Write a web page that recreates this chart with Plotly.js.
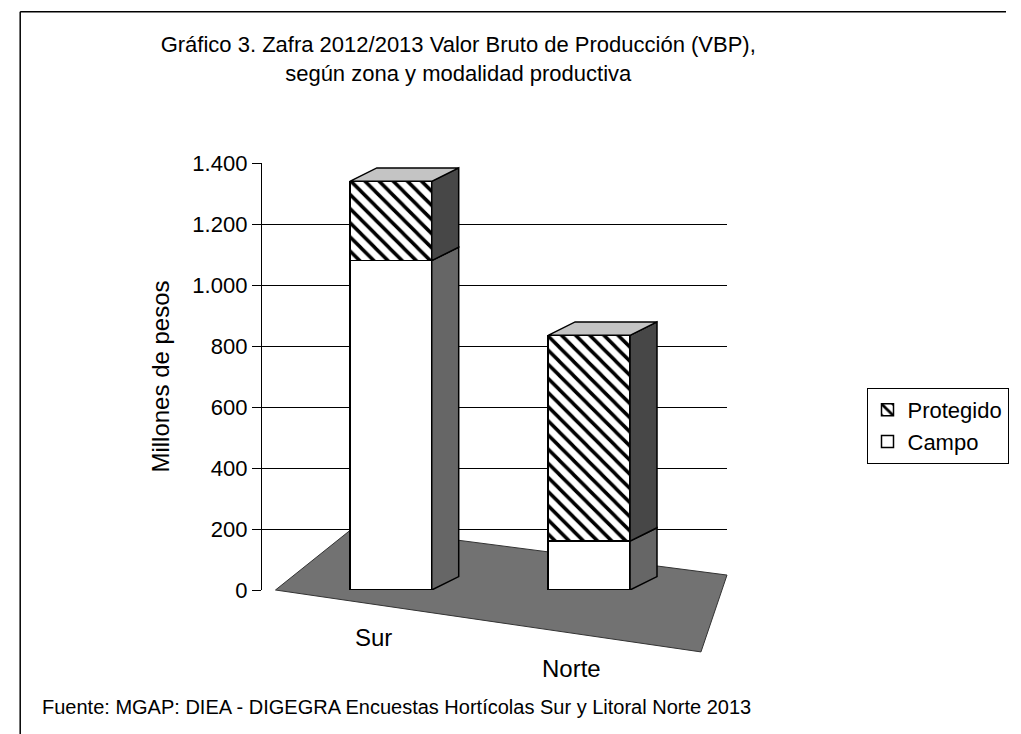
<!DOCTYPE html>
<html>
<head>
<meta charset="utf-8">
<script src="https://cdn.plot.ly/plotly-3.0.1.min.js"></script>
<style>html,body{margin:0;padding:0;background:#fff;}#chart{width:1021px;height:734px;}</style>
</head>
<body>
<div id="chart"></div>
<script>
// ---- data ----
const categories = ['Sur', 'Norte'];
const campo = [1080, 160];
const protegido = [260, 675];
const yTickVals = [0, 200, 400, 600, 800, 1000, 1200, 1400];
const seriesNames = ['Campo', 'Protegido'];
const titleText = 'Gráfico 3. Zafra 2012/2013 Valor Bruto de Producción (VBP),<br>según zona y modalidad productiva';
const yTitle = 'Millones de pesos';
const sourceText = 'Fuente: MGAP: DIEA - DIGEGRA Encuestas Hortícolas Sur y Litoral Norte 2013';

// ---- geometry/style ----
const FONT = 'Liberation Sans, Arial, sans-serif';
const barWidth = 0.413, barOffset = -0.12;
const depthX = 0.136, depthY = 44;
const xIdx = categories.map((c, i) => i);

const traces = [
  {
    type: 'bar', name: seriesNames[0], x: xIdx, y: campo,
    width: barWidth, offset: barOffset,
    marker: {color: '#ffffff', line: {color: '#000', width: 1.5}},
    legendrank: 2, hoverinfo: 'y'
  },
  {
    type: 'bar', name: seriesNames[1], x: xIdx, y: protegido,
    width: barWidth, offset: barOffset,
    marker: {color: '#ffffff', line: {color: '#000', width: 1.5},
      pattern: {shape: '\\', size: 10, solidity: 0.35, fgcolor: '#000', bgcolor: '#fff'}},
    legendrank: 1, hoverinfo: 'y'
  }
];

// pseudo-3D faces computed from the data
const shapes = [];
// floor (decoration, paper coords)
shapes.push({type: 'path', xref: 'paper', yref: 'paper', layer: 'below',
  path: 'M 0.029,0 L 0.199,0.148 L 1.0,0.035 L 0.944,-0.145 Z',
  fillcolor: '#727272', line: {color: '#333', width: 1}});
xIdx.forEach(i => {
  const xl = i + barOffset, xr = xl + barWidth;
  const c = campo[i], t = campo[i] + protegido[i];
  shapes.push({type: 'path', xref: 'x', yref: 'y', layer: 'above',
    path: `M ${xr},0 L ${xr + depthX},${depthY} L ${xr + depthX},${c + depthY} L ${xr},${c} Z`,
    fillcolor: '#666666', line: {color: '#000', width: 1.5}});
  shapes.push({type: 'path', xref: 'x', yref: 'y', layer: 'above',
    path: `M ${xr},${c} L ${xr + depthX},${c + depthY} L ${xr + depthX},${t + depthY} L ${xr},${t} Z`,
    fillcolor: '#474747', line: {color: '#000', width: 1.5}});
  shapes.push({type: 'path', xref: 'x', yref: 'y', layer: 'above',
    path: `M ${xl},${t} L ${xl + depthX},${t + depthY} L ${xr + depthX},${t + depthY} L ${xr},${t} Z`,
    fillcolor: '#c4c4c4', line: {color: '#000', width: 1.5}});
});
// outer frame (top and left edges visible)
shapes.push({type: 'line', xref: 'paper', yref: 'paper', x0: -0.52, x1: 1.6, y0: 1.354, y1: 1.354, line: {color: '#000', width: 1.5}});
shapes.push({type: 'line', xref: 'paper', yref: 'paper', x0: -0.52, x1: -0.52, y0: 1.354, y1: -0.34, line: {color: '#000', width: 1.5}});

const catY = [-0.112, -0.183];
const annotations = categories.map((c, i) => ({
  xref: 'x', yref: 'paper', x: i, y: catY[i], text: c, showarrow: false,
  xanchor: 'center', yanchor: 'middle', font: {family: FONT, size: 24, color: '#000'}
}));
annotations.push({xref: 'paper', yref: 'paper', x: -0.478, y: -0.274, xanchor: 'left', yanchor: 'middle',
  text: sourceText, showarrow: false, font: {family: FONT, size: 20, color: '#000'}});

const layout = {
  width: 1021, height: 734,
  margin: {l: 262, r: 276, t: 163, b: 144},
  paper_bgcolor: '#fff', plot_bgcolor: '#fff',
  separators: ',.',
  font: {family: FONT, color: '#000'},
  title: {text: titleText, x: 0.422, xref: 'paper', xanchor: 'center', y: 0.929, yref: 'container', yanchor: 'top',
    font: {family: FONT, size: 22, color: '#000'}},
  barmode: 'stack',
  showlegend: true,
  legend: {x: 1.3, y: 0.473, xanchor: 'left', yanchor: 'top', traceorder: 'normal',
    bordercolor: '#000', borderwidth: 1, bgcolor: '#fff', font: {family: FONT, size: 22, color: '#000'}},
  xaxis: {type: 'linear', range: [-0.563, 1.782], showticklabels: false, showgrid: false, zeroline: false,
    showline: false, ticks: '', fixedrange: true},
  yaxis: {range: [0, 1400], tickvals: yTickVals, separatethousands: true, tickformat: ',d',
    showgrid: true, gridcolor: '#000', gridwidth: 1, zeroline: false,
    showline: true, linecolor: '#000', linewidth: 1.2, ticks: 'outside', ticklen: 9, tickcolor: '#000',
    tickfont: {family: FONT, size: 22, color: '#000'},
    title: {text: yTitle, standoff: 16, font: {family: FONT, size: 24, color: '#000'}}},
  shapes: shapes,
  annotations: annotations
};

Plotly.newPlot('chart', traces, layout, {displayModeBar: false, staticPlot: true});
</script>
</body>
</html>
